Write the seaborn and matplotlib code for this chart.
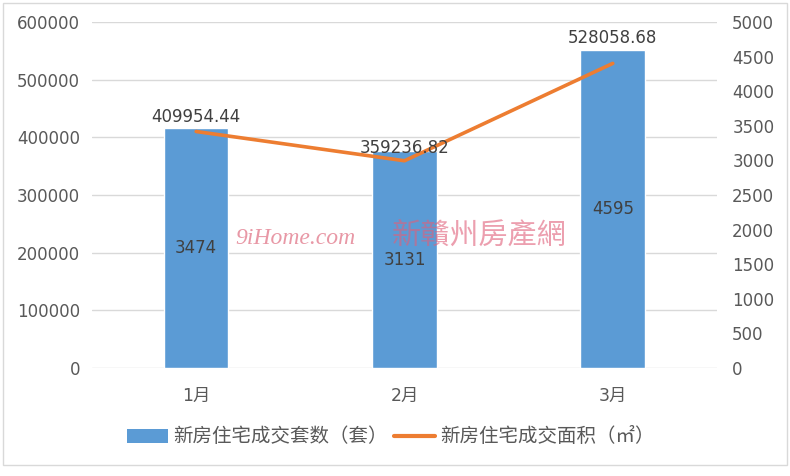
import matplotlib.pyplot as plt
import numpy as np
import seaborn as sns
from matplotlib.lines import Line2D
from matplotlib.patches import Patch, Rectangle

# data
months = ['1月', '2月', '3月']
units = [3474, 3131, 4595]                          # 新房住宅成交套数（套）, right axis
area = [409954.44, 359236.82, 528058.68]           # 新房住宅成交面积（㎡）, left axis
left_ticks = [0, 100000, 200000, 300000, 400000, 500000, 600000]
right_ticks = [0, 500, 1000, 1500, 2000, 2500, 3000, 3500, 4000, 4500, 5000]

bar_color = '#5B9BD5'
line_color = '#ED7D31'
text_color = '#595959'

sns.set_theme(style='white')
plt.rcParams['font.family'] = ['DejaVu Sans', 'Noto Sans CJK SC']

fig = plt.figure(figsize=(7.9, 4.76), dpi=100)
# bottom axes: left scale + gridlines (so grid sits behind the bars)
ax = fig.add_axes([0.1165, 0.227, 0.791, 0.727])
ax.set_ylim(0, 600000)
ax.set_yticks(left_ticks)
ax.grid(axis='y', color='#d9d9d9', linewidth=1)
ax.tick_params(axis='y', labelsize=12, colors=text_color, length=0, pad=8.5)

# bars on right scale
ax_bar = ax.twinx()
pos = np.arange(len(months))
sns.barplot(x=pos, y=units, ax=ax_bar, color=bar_color, width=0.31,
            saturation=1, native_scale=True)
ax_bar.set_ylim(0, 5000)
ax_bar.set_yticks(right_ticks)
ax_bar.tick_params(axis='y', labelsize=12, colors=text_color, length=0, pad=11)
ax_bar.bar_label(ax_bar.containers[0], label_type='center', fontsize=12,
                 color='#404040')

# line on left scale, drawn on top
ax_line = ax.twinx()
sns.lineplot(x=pos, y=area, ax=ax_line, color=line_color, linewidth=2.6)
ax_line.set_ylim(0, 600000)
ax_line.set_yticks([])
# excel pushes the last label clear of the bar top
label_offsets = [4, 3, 12]
for x, v, off in zip(pos, area, label_offsets):
    ax_line.annotate(f'{v:.2f}', (x, v), xytext=(0, off), textcoords='offset points',
                     ha='center', va='bottom', fontsize=12, color='#404040')

for a in (ax, ax_bar, ax_line):
    a.set_ylabel('')
    a.set_xlabel('')
    for s in a.spines.values():
        s.set_visible(False)
ax.set_xlim(-0.5, 2.5)
ax.set_xticks(pos)
ax.set_xticklabels(months)
ax.tick_params(axis='x', labelsize=12.5, colors=text_color, length=0, pad=14)

handles = [Patch(facecolor=bar_color, edgecolor='none'),
           Line2D([0], [0], color=line_color, linewidth=3)]
labels = ['新房住宅成交套数（套）', '新房住宅成交面积（㎡）']
fig.legend(handles, labels, loc='center', bbox_to_anchor=(0.495, 0.082), ncol=2,
           frameon=False, fontsize=14, labelcolor=text_color,
           handlelength=2.1, handleheight=0.72, columnspacing=0.3, handletextpad=0.3)

# watermark
fig.text(235 / 790, 1 - 238 / 476, '9iHome.com', fontsize=17, style='italic',
         family='Liberation Serif', color='#d9546b', alpha=0.6, va='center')
fig.text(392 / 790, 1 - 236 / 476, '新贛州房產網', fontsize=21,
         family=['Noto Sans CJK TC', 'DejaVu Sans'], color='#e0607a', alpha=0.6,
         va='center')

# chart frame
fig.patches.append(Rectangle((3 / 790, 1 - 465 / 476), 784 / 790, 462 / 476,
                             transform=fig.transFigure, fill=False,
                             edgecolor='#d9d9d9', linewidth=1))

fig.savefig('out.png', dpi=100)
